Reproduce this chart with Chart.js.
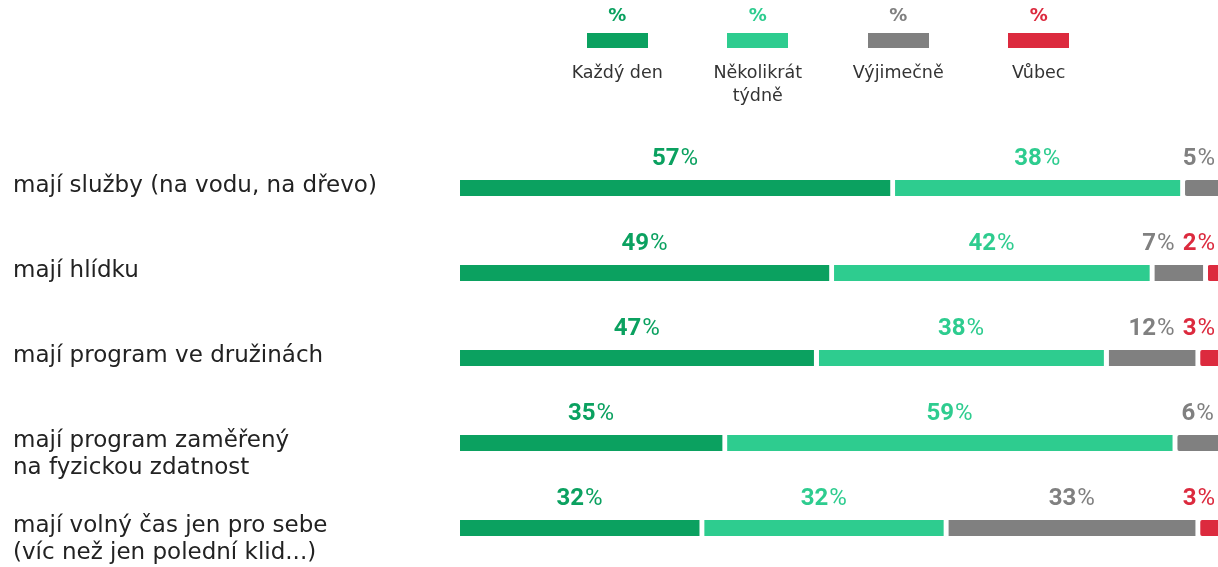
<!DOCTYPE html>
<html lang="cs">
<head>
<meta charset="utf-8">
<script src="https://cdn.jsdelivr.net/npm/chart.js@4/dist/chart.umd.min.js"></script>
<style>
    html, body { margin: 0; padding: 0; background: #fff; overflow: hidden; }
    body { width: 1218px; height: 567px; position: relative; }
    #wrap { position: absolute; left: 0; top: 0; width: 1223px; height: 567px; }
    #legend { position: absolute; left: 547px; top: 0; display: flex; font-family: "DejaVu Sans", sans-serif; }
    .item { width: 140.5px; text-align: center; }
    .pct { font-size: 18px; font-weight: bold; height: 20px; line-height: 20px; margin-top: 5px; }
    .box { width: 61px; height: 15px; margin: 8px auto 0; }
    .lbl { font-size: 17.5px; color: #333; line-height: 23px; margin-top: 13px; }
</style>
</head>
<body>
<div id="wrap"><canvas id="chart"></canvas></div>
<div id="legend"></div>
<script>
// popisky řádků
const categories = [
    'mají služby (na vodu, na dřevo)',
    'mají hlídku',
    'mají program ve družinách',
    'mají program zaměřený\nna fyzickou zdatnost',
    'mají volný čas jen pro sebe\n(víc než jen polední klid...)'
];
// názvy řad a barvy
const seriesNames = ['Každý den', 'Několikrát\ntýdně', 'Výjimečně', 'Vůbec'];
const seriesColors = ['#0ba160', '#2ecc8f', '#808080', '#dc2a3e'];
// hodnoty v %
const kazdyDen = [57, 49, 47, 35, 32];
const nekolikratTydne = [38, 42, 38, 59, 32];
const vyjimecne = [5, 7, 12, 6, 33];
const vubec = [0, 2, 3, 0, 3];

const seriesValues = [kazdyDen, nekolikratTydne, vyjimecne, vubec];
const GAP = 5;
const NUM_FONT = 'bold 24px Roboto';
const PCT_FONT = '24px Roboto';

// legenda nahoře
const legend = document.getElementById('legend');
seriesNames.forEach((name, i) => {
    const item = document.createElement('div');
    item.className = 'item';
    item.innerHTML = `<div class="pct" style="color:${seriesColors[i]}">%</div>` +
        `<div class="box" style="background:${seriesColors[i]}"></div>` +
        `<div class="lbl">${name.replace('\n', '<br>')}</div>`;
    legend.appendChild(item);
});

// popisky hodnot nad segmenty
const valueLabels = {
    id: 'valueLabels',
    afterDatasetsDraw(chart) {
        const ctx = chart.ctx;
        ctx.save();
        ctx.textBaseline = 'middle';
        ctx.textAlign = 'left';
        chart.data.labels.forEach((_, i) => {
            const items = [];
            chart.data.datasets.forEach((ds, di) => {
                const v = ds.data[i];
                if (!v) return;
                const bar = chart.getDatasetMeta(di).data[i];
                const num = String(v);
                ctx.font = NUM_FONT;
                const w1 = ctx.measureText(num).width;
                ctx.font = PCT_FONT;
                const w2 = ctx.measureText('%').width;
                const total = w1 + 1 + w2;
                const cx = (bar.base + bar.x - GAP) / 2;
                items.push({ num, w1, total, x0: cx - total / 2, y: bar.y - 29, color: seriesColors[di] });
            });
            // zprava doleva, aby se popisky nepřekrývaly
            let limit = 1215;
            for (let k = items.length - 1; k >= 0; k--) {
                const it = items[k];
                it.x0 = Math.min(it.x0, limit - it.total);
                limit = it.x0 - 8;
            }
            items.forEach(it => {
                ctx.fillStyle = it.color;
                ctx.font = NUM_FONT;
                ctx.fillText(it.num, it.x0, it.y);
                ctx.font = PCT_FONT;
                ctx.fillText('%', it.x0 + it.w1 + 1, it.y);
            });
        });
        ctx.restore();
    }
};

new Chart(document.getElementById('chart'), {
    type: 'bar',
    data: {
        labels: categories.map(c => {
            const lines = c.split('\n');
            return lines.length > 1 ? lines : [lines[0], ''];
        }),
        datasets: seriesValues.map((vals, i) => ({
            label: seriesNames[i],
            data: vals,
            backgroundColor: seriesColors[i],
            borderColor: '#ffffff',
            borderWidth: { top: 0, right: GAP, bottom: 0, left: 0 },
            borderSkipped: false,
            borderRadius: 2,
            barThickness: 16,
            clip: false
        }))
    },
    options: {
        indexAxis: 'y',
        responsive: true,
        maintainAspectRatio: false,
        animation: false,
        layout: { padding: { left: 13, top: 188, bottom: 39, right: 0 } },
        scales: {
            x: {
                stacked: true,
                min: 0,
                max: 100,
                display: false
            },
            y: {
                stacked: true,
                offset: false,
                grid: { display: false, drawTicks: false },
                border: { display: false },
                afterFit(scale) { scale.width = 447; },
                ticks: {
                    autoSkip: false,
                    crossAlign: 'far',
                    padding: 0,
                    labelOffset: 11.5,
                    color: '#222',
                    font: { family: 'DejaVu Sans', size: 23, lineHeight: 1.17 }
                }
            }
        },
        plugins: {
            legend: { display: false },
            tooltip: { enabled: false }
        }
    },
    plugins: [valueLabels]
});
</script>
</body>
</html>
